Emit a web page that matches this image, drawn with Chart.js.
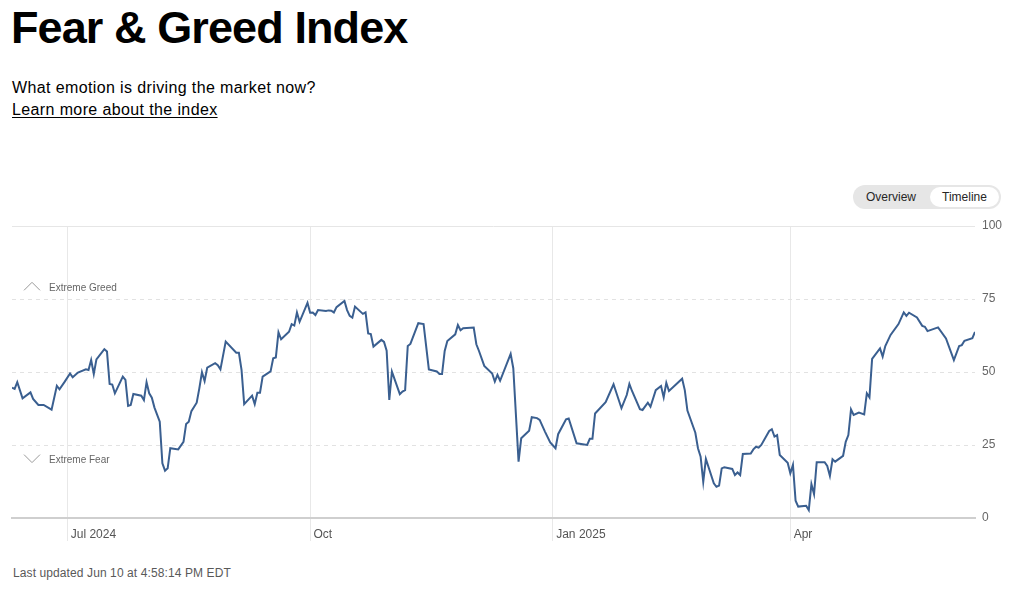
<!DOCTYPE html>
<html>
<head>
<meta charset="utf-8">
<script src="https://cdn.jsdelivr.net/npm/chart.js@4.4.1/dist/chart.umd.min.js"></script>
<style>
  body { margin: 0; background: #fff; font-family: "Liberation Sans", Arial, sans-serif; color: #000; }
  .page { position: relative; width: 1027px; height: 591px; overflow: hidden; }
  h1 { position: absolute; left: 11px; top: 5px; margin: 0; font-size: 45px; line-height: 45px; font-weight: 700; letter-spacing: -0.9px; }
  .sub { position: absolute; left: 12px; top: 78px; font-size: 16px; line-height: 20px; letter-spacing: .38px; }
  .learn { position: absolute; left: 12px; top: 100px; font-size: 16px; line-height: 20px; letter-spacing: .38px; color: #000; text-decoration: underline; text-underline-offset: 2px; }
  .toggle { position: absolute; left: 853px; top: 185px; width: 148px; height: 24px; border-radius: 12px; background: #e6e6e6; font-size: 12px; color: #262626; }
  .toggle span { position: absolute; top: 0; line-height: 24px; }
  .toggle .ov { left: 13px; }
  .toggle .tl { left: 77px; top: 2px; width: 69px; height: 20px; line-height: 20px; border-radius: 10px; background: #fff; text-align: center; }
  .chart-box { position: absolute; left: 0; top: 210px; width: 1027px; height: 340px; }
  .updated { position: absolute; left: 13px; top: 566px; font-size: 12px; letter-spacing: .1px; color: #595959; }
</style>
</head>
<body>
<div class="page">
  <h1>Fear &amp; Greed Index</h1>
  <div class="sub">What emotion is driving the market now?</div>
  <a class="learn" href="#">Learn more about the index</a>
  <div class="toggle"><span class="ov">Overview</span><span class="tl">Timeline</span></div>
  <div class="chart-box"><canvas id="fg" width="1027" height="340"></canvas></div>
  <div class="updated">Last updated Jun 10 at 4:58:14 PM EDT</div>
</div>
<script>
// days since 2024-06-10, index value
const days = [
  0, 1, 2, 4, 7, 8, 10, 12, 15, 17, 18, 20, 22, 23, 25, 28, 29, 30, 31, 32, 35, 36, 37, 38, 39, 42, 43, 44, 45, 46,
  49, 50, 51, 52, 53, 54, 56, 57, 58, 59, 60, 63, 65, 66, 67, 68, 70, 71, 72, 73, 74, 77, 78, 79, 81, 85, 86, 87, 88, 91, 92,
  93, 94, 95, 98, 99, 100, 101, 102, 105, 106, 107, 108, 109, 112, 113, 114, 115, 116, 119, 120, 121, 122, 123, 126, 127, 128, 129, 130, 133, 134, 135, 136, 137,
  140, 141, 142, 143, 144, 147, 148, 149, 150, 151, 154, 156, 158, 161, 162, 163, 164, 165, 168, 169, 170, 171, 175, 176, 177, 179, 182, 183, 184, 185,
  189, 190, 192, 193, 196, 197, 199, 200, 202, 204, 206, 207, 210, 211, 214, 218, 219, 220, 221, 225, 228, 231,
  233, 234, 235, 238, 239, 241, 242, 244, 246, 247, 248, 249, 254, 255, 256, 259, 260, 261, 262, 263, 266, 267, 268, 269, 270, 273, 274, 275, 276, 277,
  280, 281, 282, 283, 284, 287, 288, 289, 290, 291, 294, 295, 296, 297, 298, 301, 302, 303, 304, 305, 308, 309, 310, 311, 312, 315, 316, 317, 318, 319, 321, 323, 324,
  325, 326, 329, 330, 331, 333, 336, 338, 339, 340, 343, 345, 346, 347, 351, 354, 357, 359, 360, 361, 364, 365
];
const values = [
  44.6, 44.2, 46.5, 41, 43, 40.8, 38.7, 38.7, 37.1, 45.3, 44.1, 46.7, 49.5, 48.2, 49.8, 50.9, 50.7, 54.1, 49.3, 54.3, 57.8, 57, 45.9, 45.7, 42.7, 48.4, 47.3, 38.4, 38.7, 42.5,
  41.9, 40.4, 46.5, 42.7, 41.2, 37.8, 33, 18.7, 16.2, 17, 23.9, 23.5, 26.1, 32.2, 33, 36.6, 39.5, 44.4, 49.9, 46.9, 51.5, 53, 52.3, 50.9, 60.4, 56.6, 56.6, 50.7, 39, 41.9, 39,
  42.9, 42.9, 48.4, 50.2, 54.7, 55, 63.6, 61.2, 63.8, 66.4, 65.9, 70.4, 67.2, 73.7, 70.3, 70.4, 69.5, 71.2, 70.9, 71.1, 71, 70.4, 72.2, 74.3, 71.2, 69.2, 68.6, 72.4, 69.9, 70.4, 63.2, 63, 58.7,
  61, 60.3, 57.3, 40.4, 50.1, 42.4, 43.3, 43.8, 58.9, 59.6, 66.7, 66.4, 50.9, 50.2, 49.3, 49.3, 57.2, 60.6, 62.9, 66.1, 64.3, 65, 65.2, 59.5, 57.2, 52.1, 49.5, 46.7, 49, 47,
  56.2, 51.3, 19.3, 27.3, 29.9, 34.5, 34.2, 33.6, 29.6, 25.9, 23.9, 28.7, 33.8, 34.1, 25.6, 25, 27.1, 27.1, 35.8, 39.7, 45.8, 37.6,
  42.1, 45.9, 43.5, 37.3, 37, 39.5, 38.1, 43.8, 45.2, 41.3, 46.3, 43.5, 47.7, 43.8, 36.8, 29.2, 23.9, 21, 12.4, 20.2, 11.9, 10.7, 11.1, 17, 17.4, 16.8, 14.7, 15.6, 14.7, 21.9,
  22.1, 23.5, 24.4, 24.1, 25, 29.8, 30.4, 27.9, 28.4, 21.6, 18.9, 15.3, 18.2, 5.9, 3.9, 4.2, 2.7, 11.6, 8.2, 19.1, 19.1, 17.8, 14.4, 20.1, 19.3, 21.3, 26.1, 28.4, 37.2, 35.3, 36.1, 35.5, 42.7,
  41.3, 54.5, 58.1, 55.3, 58.9, 62.7, 66.4, 70.4, 69.2, 70.3, 68.7, 65.8, 65.5, 64, 65.3, 61.5, 54.1, 58.9, 59.2, 60.7, 61.6, 63.7
];
const tickDays = [21, 113, 205, 295];
const tickLabels = ['Jul 2024', 'Oct', 'Jan 2025', 'Apr'];
const zoneLabels = ['Extreme Greed', 'Extreme Fear'];
const zoneLevels = [79, 20];

Chart.defaults.font.family = '"Liberation Sans", Arial, sans-serif';

// top solid line + the two zone notes on the left
const zoneNotes = {
  id: 'zoneNotes',
  beforeDatasetsDraw(chart) {
    const { ctx, chartArea: a, scales: { y } } = chart;
    ctx.save();
    ctx.strokeStyle = '#e6e6e6';
    ctx.lineWidth = 1;
    ctx.beginPath();
    ctx.moveTo(a.left, Math.round(y.getPixelForValue(100)) + .5);
    ctx.lineTo(a.right, Math.round(y.getPixelForValue(100)) + .5);
    ctx.stroke();

    ctx.strokeStyle = '#999';
    ctx.fillStyle = '#666';
    ctx.font = '10px "Liberation Sans", Arial, sans-serif';
    ctx.textBaseline = 'middle';
    zoneLabels.forEach((label, i) => {
      const yy = y.getPixelForValue(zoneLevels[i]);
      const x0 = a.left + 12;
      const d = i === 0 ? 1 : -1;
      ctx.beginPath();
      ctx.moveTo(x0, yy - 1 + d * 4);
      ctx.lineTo(x0 + 8, yy - 1 - d * 4);
      ctx.lineTo(x0 + 16, yy - 1 + d * 4);
      ctx.stroke();
      ctx.fillText(label, a.left + 37, yy + 1);
    });
    ctx.restore();
  }
};

new Chart(document.getElementById('fg'), {
  type: 'line',
  data: {
    datasets: [{
      data: days.map((d, i) => ({ x: d, y: values[i] })),
      borderColor: '#3a5f90',
      borderWidth: 2,
      pointRadius: 0,
      tension: 0
    }]
  },
  options: {
    responsive: false,
    animation: false,
    layout: { padding: { left: 12, top: 16, right: 0, bottom: 0 } },
    plugins: { legend: { display: false }, tooltip: { enabled: false } },
    scales: {
      x: {
        type: 'linear',
        min: 0,
        max: 365,
        afterBuildTicks: s => { s.ticks = tickDays.map(v => ({ value: v })); },
        afterFit: s => { s.height = 32; },
        ticks: {
          autoSkip: false,
          maxRotation: 0,
          align: 'start',
          padding: -14,
          color: '#555',
          font: { size: 12 },
          callback: v => ' ' + tickLabels[tickDays.indexOf(v)]
        },
        grid: { color: '#e8e8e8', lineWidth: 1, drawTicks: true, tickLength: 23, tickColor: '#e8e8e8' },
        border: { display: true, color: '#cfcfcf', width: 2 }
      },
      y: {
        position: 'right',
        min: 0,
        max: 100,
        afterFit: s => { s.width = 52; },
        ticks: { stepSize: 25, padding: 7, color: '#666', font: { size: 12 } },
        grid: {
          drawTicks: false,
          color: c => (c.tick && (c.tick.value === 0 || c.tick.value === 100)) ? 'rgba(0,0,0,0)' : '#e2e2e2'
        },
        border: { display: false, dash: [4, 4] }
      }
    }
  },
  plugins: [zoneNotes]
});
</script>
</body>
</html>
